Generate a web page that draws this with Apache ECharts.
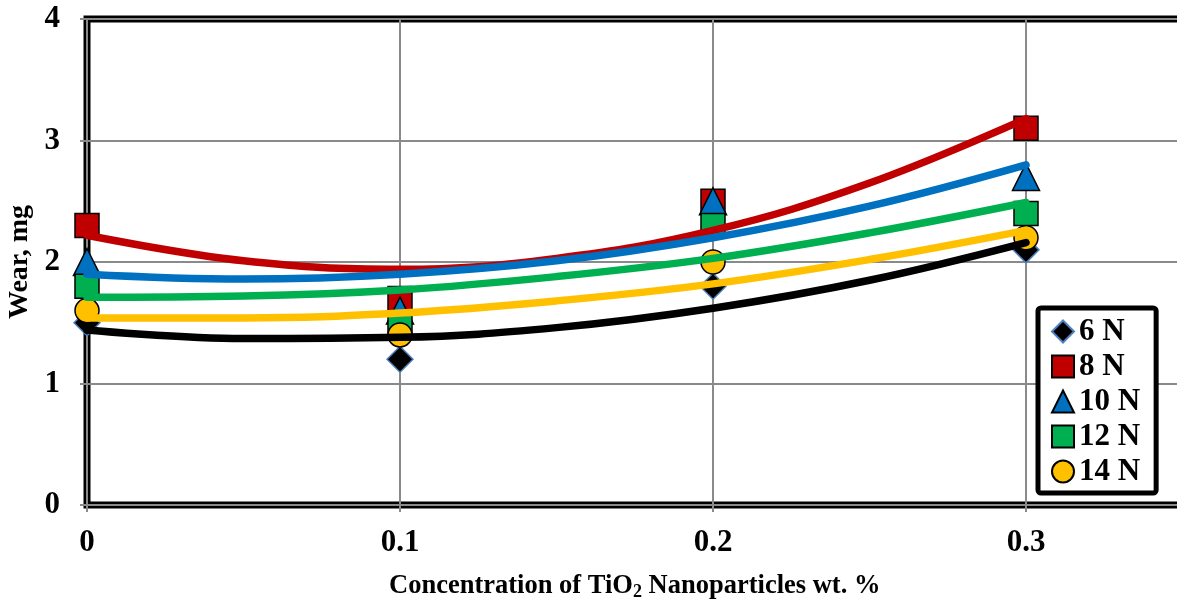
<!DOCTYPE html>
<html>
<head>
<meta charset="utf-8">
<script src="https://cdn.jsdelivr.net/npm/echarts@6/dist/echarts.min.js"></script>
<style>
html,body{margin:0;padding:0;background:#fff;}
#chart{width:1177px;height:602px;}
</style>
</head>
<body>
<div id="chart"></div>
<script>
const concentrations = [0, 0.1, 0.2, 0.3];
const seriesNames = ['6 N', '8 N', '10 N', '12 N', '14 N'];
const wear6 = [1.5, 1.2, 1.8, 2.1];
const wear8 = [2.3, 1.7, 2.5, 3.1];
const wear10 = [2.0, 1.6, 2.5, 2.7];
const wear12 = [1.8, 1.5, 2.3, 2.4];
const wear14 = [1.6, 1.4, 2.0, 2.2];
const trendX = [0, 0.05, 0.1, 0.15, 0.2, 0.25, 0.3];
const trend6 = [1.44, 1.37, 1.38, 1.46, 1.62, 1.85, 2.16];
const trend8 = [2.22, 2.01, 1.94, 2.03, 2.26, 2.65, 3.18];
const trend10 = [1.90, 1.86, 1.90, 2.01, 2.20, 2.46, 2.80];
const trend12 = [1.71, 1.72, 1.77, 1.88, 2.03, 2.24, 2.49];
const trend14 = [1.54, 1.54, 1.58, 1.68, 1.82, 2.02, 2.26];
const yTicks = [0, 1, 2, 3, 4];

const FONT = "'Liberation Serif', 'Times New Roman', serif";
const pts = (xs, ys) => xs.map((x, i) => [x, ys[i]]);

const markerDefs = [
  {name: seriesNames[0], data: wear6, symbol: 'diamond', size: 26, fill: '#000000', border: '#4F81BD', bw: 1.5},
  {name: seriesNames[1], data: wear8, symbol: 'rect', size: 24, fill: '#C00000', border: '#000000', bw: 1.5},
  {name: seriesNames[2], data: wear10, symbol: 'triangle', size: 27, fill: '#0070C0', border: '#000000', bw: 1.5},
  {name: seriesNames[3], data: wear12, symbol: 'rect', size: 24, fill: '#00B050', border: '#000000', bw: 1.5},
  {name: seriesNames[4], data: wear14, symbol: 'circle', size: 24, fill: '#FFC000', border: '#000000', bw: 1.5}
];
const trendDefs = [
  {data: trend6, color: '#000000'},
  {data: trend8, color: '#C00000'},
  {data: trend10, color: '#0070C0'},
  {data: trend12, color: '#00B050'},
  {data: trend14, color: '#FFC000'}
];

const series = [];
markerDefs.forEach(m => {
  series.push({
    name: m.name, type: 'scatter', z: 2,
    symbol: m.symbol, symbolSize: m.size,
    itemStyle: {color: m.fill, borderColor: m.border, borderWidth: m.bw, opacity: 1},
    data: pts(concentrations, m.data)
  });
});
trendDefs.forEach((t, i) => {
  series.push({
    name: seriesNames[i] + ' trend', type: 'line', z: 3,
    smooth: 0.4, showSymbol: false, symbol: 'none',
    lineStyle: {color: t.color, width: 7.5, cap: 'round'},
    data: pts(trendX, t.data), silent: true
  });
});

const chart = echarts.init(document.getElementById('chart'), null, {renderer: 'canvas'});
chart.setOption({
  animation: false,
  backgroundColor: '#ffffff',
  grid: {left: 87, width: 1095.5, top: 19, height: 486, containLabel: false, outerBoundsMode: 'none',
    show: true, borderColor: '#000000', borderWidth: 7, backgroundColor: 'transparent'},
  xAxis: {
    type: 'value', min: 0, max: 0.35, interval: 0.1,
    name: 'Concentration of TiO{sub|2} Nanoparticles wt. %',
    nameLocation: 'middle', nameGap: 66,
    nameTextStyle: {fontFamily: FONT, fontWeight: 'bold', fontSize: 26.5, color: '#000',
      rich: {sub: {fontFamily: FONT, fontWeight: 'bold', fontSize: 18, color: '#000', verticalAlign: 'bottom', padding: [12, 0, 0, 0]}}},
    axisLine: {show: true, lineStyle: {color: '#8a8a8a', width: 2}},
    axisTick: {show: true, length: 7, lineStyle: {color: '#8a8a8a', width: 2}},
    splitLine: {show: true, lineStyle: {color: '#8a8a8a', width: 2}},
    axisLabel: {
      margin: 22, fontFamily: FONT, fontWeight: 'bold', fontSize: 31, color: '#000',
      showMaxLabel: false,
      formatter: v => {
        const k = Math.round(v * 10);
        if (Math.abs(v * 10 - k) > 1e-6 || v > 0.31) return '';
        return k === 0 ? '0' : (k / 10).toString();
      }
    }
  },
  yAxis: {
    type: 'value', min: yTicks[0], max: yTicks[yTicks.length - 1], interval: 1,
    name: 'Wear, mg', nameLocation: 'middle', nameGap: 44, nameRotate: 90,
    nameTextStyle: {fontFamily: FONT, fontWeight: 'bold', fontSize: 28, color: '#000'},
    axisLine: {show: true, lineStyle: {color: '#8a8a8a', width: 2}},
    axisTick: {show: true, length: 7, lineStyle: {color: '#8a8a8a', width: 2}},
    splitLine: {show: true, lineStyle: {color: '#8a8a8a', width: 2}},
    axisLabel: {margin: 27, fontFamily: FONT, fontWeight: 'bold', fontSize: 31, color: '#000'}
  },
  legend: {
    data: seriesNames, orient: 'vertical', left: 1038, top: 308,
    backgroundColor: '#ffffff', borderColor: '#000000', borderWidth: 5, borderRadius: 3,
    padding: [8, 16, 6, 13], itemWidth: 22, itemHeight: 22, itemGap: 4,
    textStyle: {fontFamily: FONT, fontWeight: 'bold', fontSize: 31, color: '#000'}
  },
  series: series
});
</script>
</body>
</html>
